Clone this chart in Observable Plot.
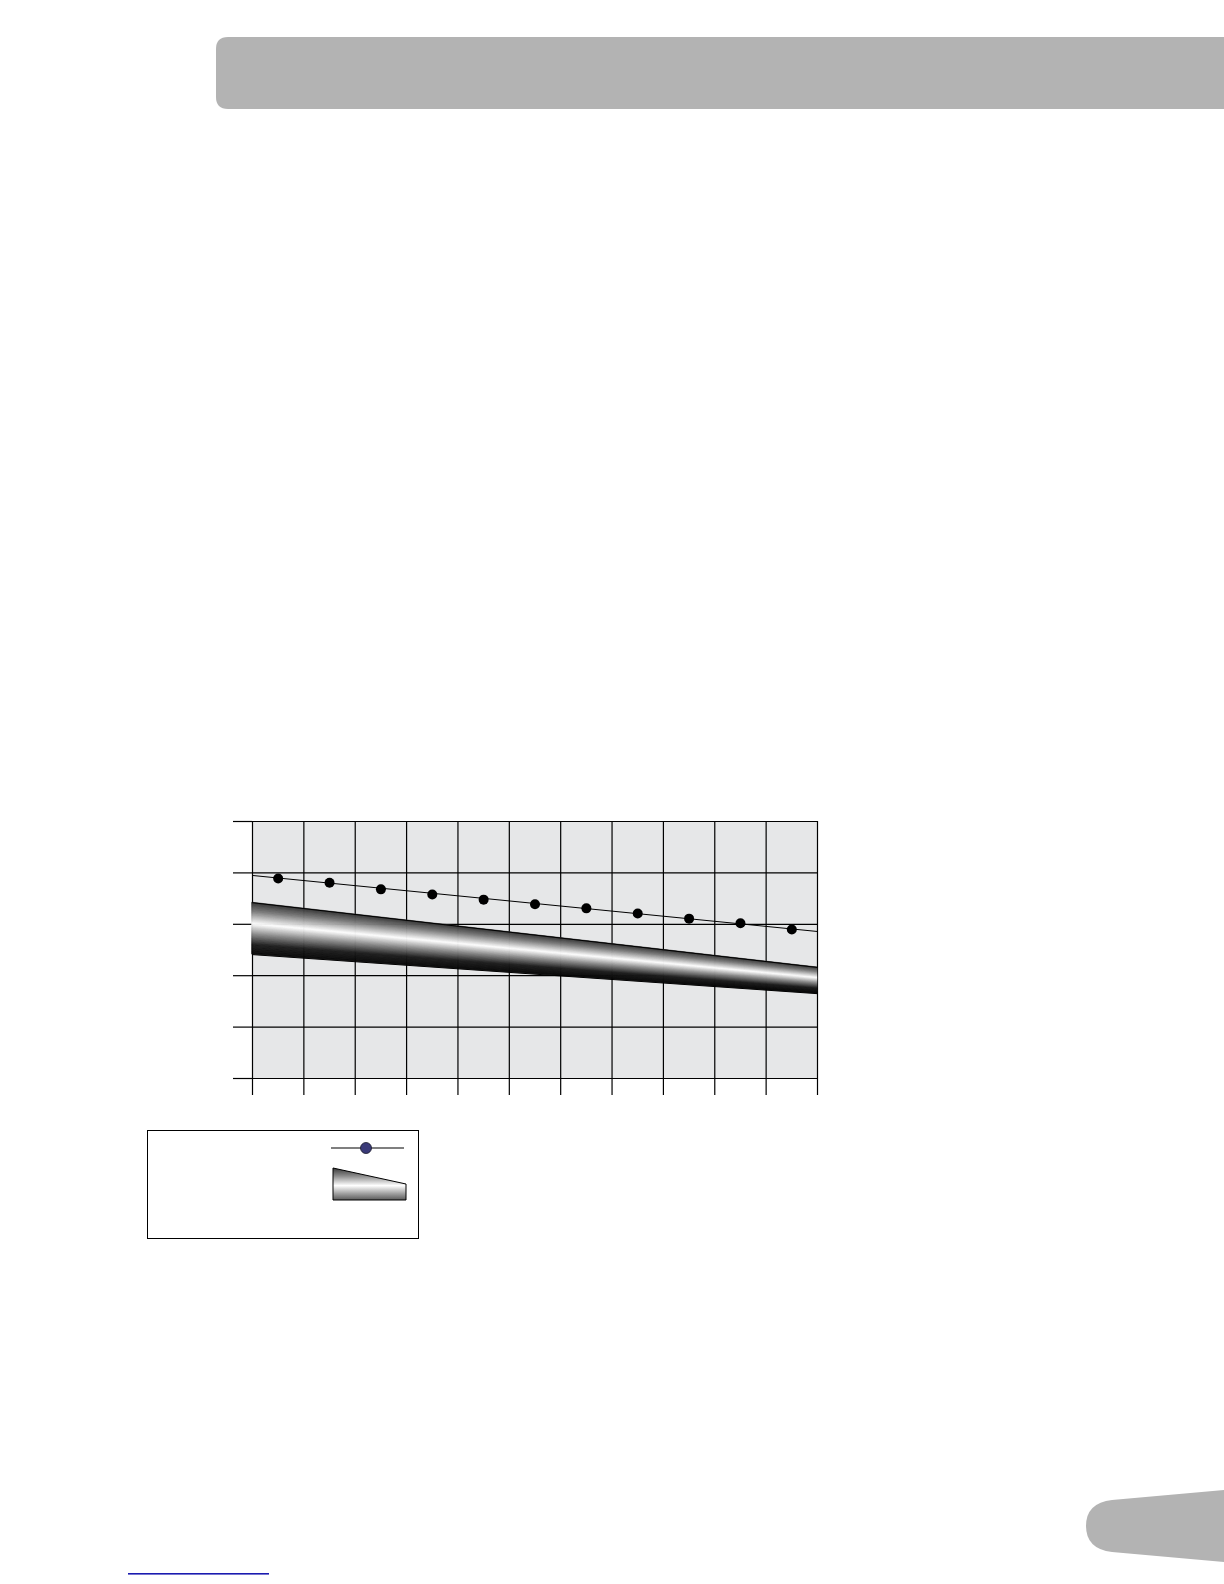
<!DOCTYPE html>
<html>
<head>
<meta charset="utf-8">
<script src="https://cdn.jsdelivr.net/npm/d3@7"></script>
<script src="https://cdn.jsdelivr.net/npm/@observablehq/plot@0.6"></script>
<style>
  html, body { margin: 0; padding: 0; background: #fff; }
  body { width: 1224px; height: 1584px; position: relative; overflow: hidden; font-family: "Liberation Sans", Arial, sans-serif; }
  #deco { position: absolute; left: 0; top: 0; }
  #chart { position: absolute; left: 0; top: 800px; }
  #legend { position: absolute; left: 147px; top: 1130px; width: 272px; height: 109px; border: 1.5px solid #000; box-sizing: border-box; }
</style>
</head>
<body>
<svg id="deco" width="1224" height="1584">
  <defs>
    <linearGradient id="legGrad" x1="0" y1="0" x2="0" y2="1">
      <stop offset="0" stop-color="#3a3a3a"/>
      <stop offset="0.25" stop-color="#8c8c8c"/>
      <stop offset="0.55" stop-color="#ffffff"/>
      <stop offset="0.8" stop-color="#a0a0a0"/>
      <stop offset="1" stop-color="#5a5a5a"/>
    </linearGradient>
  </defs>
  <!-- header bar -->
  <path d="M228,37 L1224,37 L1224,109 L228,109 Q216,109 216,97 L216,49 Q216,37 228,37 Z" fill="#b3b3b3"/>
  <!-- page tab -->
  <path d="M1224,1490 L1112,1500 Q1086,1503 1086,1526 Q1086,1549 1112,1552 L1224,1562 Z" fill="#b3b3b3"/>
  <!-- link underline -->
  <rect x="128" y="1573" width="141" height="1.6" fill="#1b1bb0"/>
  <!-- legend symbols -->
  <line x1="331" y1="1148" x2="404" y2="1148" stroke="#000" stroke-width="1.2"/>
  <circle cx="366" cy="1148" r="5.5" fill="#3a3a78" stroke="#1a1a2a" stroke-width="0.8"/>
  <path d="M333,1168 L406,1184 L406,1200 L333,1200 Z" fill="url(#legGrad)" stroke="#000" stroke-width="1"/>
</svg>
<div id="legend"></div>
<div id="chart"></div>
<script>
// ---- data ----
const categories = [1, 2, 3, 4, 5, 6, 7, 8, 9, 10, 11];
const seriesValues = [3.89, 3.81, 3.68, 3.58, 3.48, 3.39, 3.31, 3.21, 3.11, 3.02, 2.90];
const trendX = [0, 11];
const trendY = [3.95, 2.86];
const bandX = [0, 11];
const bandTop = [3.42, 2.16];
const bandBottom = [2.41, 1.65];
const xTicks = [0, 1, 2, 3, 4, 5, 6, 7, 8, 9, 10, 11];
const yTicks = [0, 1, 2, 3, 4, 5];

// tables built from the arrays
const points = categories.map((c, i) => ({x: c - 0.5, y: seriesValues[i]}));
const trend = trendX.map((x, i) => ({x, y: trendY[i]}));
const bandTopLine = bandX.map((x, i) => ({x, y: bandTop[i]}));
const bandBottomLine = bandX.map((x, i) => ({x, y: bandBottom[i]}));

// shading across the band (0 = top edge, 1 = bottom edge)
const shade = d3.scaleLinear()
  .domain([0, 0.18, 0.42, 0.62, 0.82, 1])
  .range(["#2e2e2e", "#7a7a7a", "#ffffff", "#8a8a8a", "#1e1e1e", "#080808"])
  .interpolate(d3.interpolateRgb);
const N = 60;
const strips = [];
for (let k = 0; k < N; k++) {
  const t0 = k / N, t1 = (k + 1) / N, tm = (t0 + t1) / 2;
  bandX.forEach((x, i) => {
    const top = bandTop[i], bot = bandBottom[i];
    strips.push({x, y1: top + (bot - top) * t0, y2: top + (bot - top) * t1, z: k, fill: shade(tm)});
  });
}

const chart = Plot.plot({
  width: 840,
  height: 300,
  marginLeft: 252,
  marginRight: 23,
  marginTop: 21,
  marginBottom: 22,
  style: {background: "transparent", overflow: "visible"},
  x: {domain: [0, 11], axis: null, label: null},
  y: {domain: [0, 5], axis: null, label: null},
  color: {type: "identity"},
  marks: [
    Plot.frame({fill: "#e6e7e8", stroke: null}),
    Plot.gridX(xTicks, {stroke: "#000", strokeOpacity: 1, strokeWidth: 1.2}),
    Plot.gridY(yTicks, {stroke: "#000", strokeOpacity: 1, strokeWidth: 1.2}),
    Plot.axisX(xTicks, {anchor: "bottom", tickSize: 17, tickFormat: () => "", label: null, stroke: "#000", strokeWidth: 1.2}),
    Plot.axisY(yTicks, {anchor: "left", tickSize: 19, tickFormat: () => "", label: null, stroke: "#000", strokeWidth: 1.2}),
    Plot.areaY(strips, {x: "x", y1: "y1", y2: "y2", z: "z", fill: "fill", stroke: "fill", strokeWidth: 0.6}),
    Plot.line(bandTopLine, {x: "x", y: "y", stroke: "#000", strokeWidth: 1}),
    Plot.line(bandBottomLine, {x: "x", y: "y", stroke: "#000", strokeWidth: 1}),
    Plot.line(trend, {x: "x", y: "y", stroke: "#000", strokeWidth: 1}),
    Plot.dot(points, {x: "x", y: "y", r: 5, fill: "#000", stroke: null})
  ]
});
document.getElementById("chart").appendChild(chart);
</script>
</body>
</html>
